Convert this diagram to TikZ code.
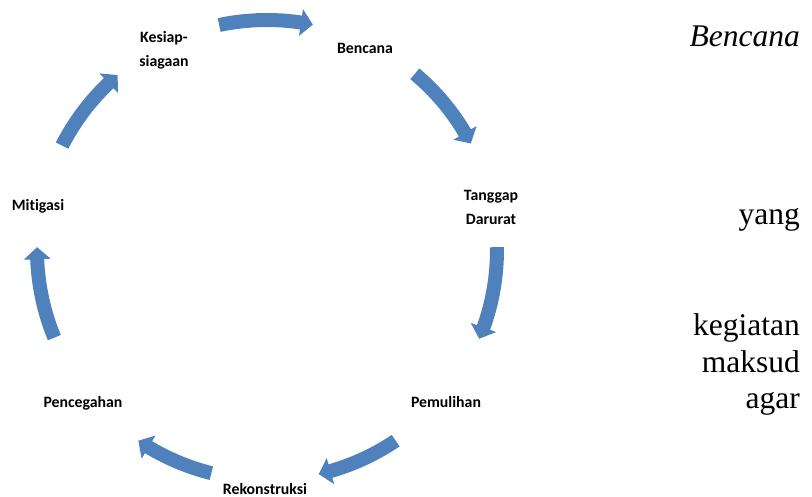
\documentclass[tikz,border=0pt]{standalone}
\usepackage{fontspec}
\setmainfont{Liberation Serif}
\newfontfamily\sidefont{Liberation Serif}
\newfontfamily\cyclefont[Ligatures=NoCommon]{Carlito}
\definecolor{cBlue}{HTML}{4F81BD}

\begin{document}
\begin{tikzpicture}[
    x=1pt, y=1pt,
    % label fase siklus
    phase/.style={
        font=\cyclefont\bfseries\fontsize{15.8}{24}\selectfont,
        align=center,
        inner sep=0pt,
        anchor=base
    },
    side text/.style={
        font=\sidefont\fontsize{31.5}{37}\selectfont,
        inner sep=0pt,
        anchor=base east
    },
    cycle arrow/.style={
        fill=cBlue
    }
]
\useasboundingbox (0,0) rectangle (812,-497);

% pusat lingkaran siklus
\coordinate (O) at (267,-250);

% ---------------------------------------------------------
% 1. FASE
% ---------------------------------------------------------
\node[phase] (kesiap) at (164,-67) {Kesiap-\\siagaan};
\node[phase] (bencana) at (365,-54) {Bencana};
\node[phase] (tanggap) at (491,-224.5) {Tanggap\\Darurat};
\node[phase] (pemulihan) at (446,-407.5) {Pemulihan};
\node[phase] (rekonstruksi) at (265,-494) {Rekonstruksi};
\node[phase] (pencegahan) at (83,-407.5) {Pencegahan};
\node[phase] (mitigasi) at (38,-211) {Mitigasi};

% ---------------------------------------------------------
% 2. PANAH MELINGKAR
% ---------------------------------------------------------
\foreach \ta/\tb in {102/78.5, 50/27.6, 0.7/-22.7, -56/-77, -104/-124, -157.6/-180.7, 153/130.5}{
    \pgfmathsetmacro\th{\tb+3}
    \fill[cycle arrow, shift={(O)}] (\ta:237) arc[start angle=\ta, end angle=\th, radius=237pt]
        -- (\th:243.5) -- (\tb:230) -- (\th:216.5) -- (\th:223)
        arc[start angle=\th, end angle=\ta, radius=223pt] -- cycle;
}

% ---------------------------------------------------------
% 3. TEKS DI KANAN
% ---------------------------------------------------------
\node[side text] (tBencana) at (800,-46.7) {\itshape Bencana};
\node[side text] (tYang) at (800,-225) {yang};
\node[side text] (tKegiatan) at (800,-335) {kegiatan};
\node[side text] (tMaksud) at (800,-372) {maksud};
\node[side text] (tAgar) at (800,-408) {agar};

\end{tikzpicture}
\end{document}
